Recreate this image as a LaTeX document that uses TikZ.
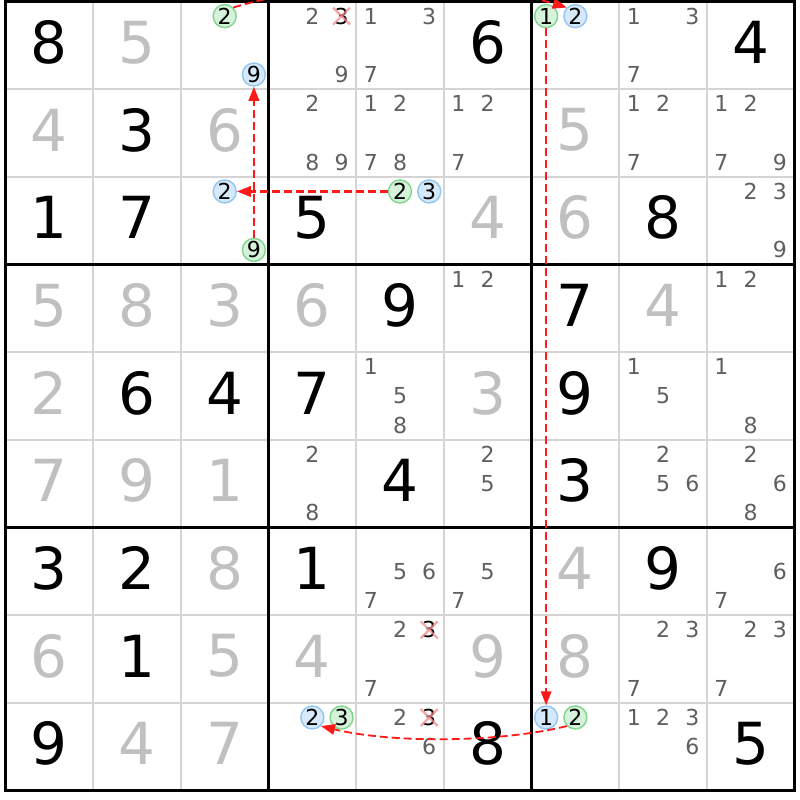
\documentclass[tikz,border=0pt]{standalone}
\usepackage{fontspec}
\setmainfont{DejaVu Sans}
\usetikzlibrary{arrows.meta}
\definecolor{gridgray}{HTML}{D4D4D4}
\definecolor{solvedgray}{HTML}{C0C0C0}
\definecolor{candgray}{HTML}{5F5F5F}
\definecolor{gfill}{HTML}{D6F2DA}
\definecolor{gline}{HTML}{7FD48E}
\definecolor{bfill}{HTML}{D6E9FB}
\definecolor{bline}{HTML}{92C5F2}
\definecolor{xred}{HTML}{F08A8A}
\definecolor{arrred}{HTML}{FF1A1A}
\newcommand\cellsz{87.67}
\newcommand\Gv[3]{\node[given] (v#1#2) at ([yshift=3pt]m#1#2) {#3};}
\newcommand\Sv[3]{\node[solved] (v#1#2) at ([yshift=3pt]m#1#2) {#3};}
\newcommand\Cd[3]{\foreach \k in {#3}{\node[cand] (n#1#2\k) at (p#1#2\k) {\k};}}
\newcommand\Xd[3]{\node[cand,text=black] (n#1#2#3) at (p#1#2#3) {#3};
  \draw[crossx] ([shift={(-8.5,-8.5)}]p#1#2#3) -- ([shift={(8.5,8.5)}]p#1#2#3)
                ([shift={(-8.5,8.5)}]p#1#2#3) -- ([shift={(8.5,-8.5)}]p#1#2#3);}
\newcommand\Gc[3]{\node[gcirc] (n#1#2#3) at (p#1#2#3) {#3};}
\newcommand\Bc[3]{\node[bcirc] (n#1#2#3) at (p#1#2#3) {#3};}
\begin{document}
\begin{tikzpicture}[x=1pt,y=1pt,
  given/.style={inner sep=0pt,font=\fontsize{58pt}{58pt}\selectfont,text=black},
  solved/.style={given,text=solvedgray},
  cand/.style={inner sep=0pt,font=\fontsize{22pt}{22pt}\selectfont,text=candgray},
  gcirc/.style={cand,circle,text=black,draw=gline,fill=gfill,line width=1.4pt,minimum size=23pt},
  bcirc/.style={gcirc,draw=bline,fill=bfill},
  crossx/.style={xred,line width=2.2pt,opacity=0.75},
  arr/.style={arrred,line width=1.8pt,dash pattern=on 8pt off 4pt,-{Triangle[length=14pt,width=10.5pt]}},
  thinline/.style={gridgray,line width=1.7pt},
  thickline/.style={black,line width=2.7pt}]
\useasboundingbox (0,0) rectangle (800,-800);
\clip (0,0) rectangle (800,-800);
\fill[white] (0,0) rectangle (800,-800);
\foreach \c in {1,...,9}{
 \foreach \r in {1,...,9}{
  \coordinate (m\c\r) at ({5.5+(\c-0.5)*\cellsz},{-(1.5+(\r-0.5)*\cellsz)});
  \foreach \k in {1,...,9}{
    \coordinate (p\c\r\k) at ({5.5+(\c-1)*\cellsz+\cellsz*(2*mod(\k-1,3)+1)/6},{-(1.5+(\r-1)*\cellsz+\cellsz*(2*div(\k-1,3)+1)/6)});
  }}}
\foreach \i in {1,2,4,5,7,8}{
  \draw[thinline] ({5.5+\i*\cellsz},-1.5) -- ({5.5+\i*\cellsz},-790.5);
  \draw[thinline] (5.5,{-(1.5+\i*\cellsz)}) -- (794.5,{-(1.5+\i*\cellsz)});
}
\foreach \i in {3,6}{
  \draw[thickline] ({5.5+\i*\cellsz},-1.5) -- ({5.5+\i*\cellsz},-790.5);
  \draw[thickline] (5.5,{-(1.5+\i*\cellsz)}) -- (794.5,{-(1.5+\i*\cellsz)});
}
\draw[thickline,line width=3pt] (5.5,-1.5) rectangle (794.5,-790.5);
% row 1
\Gv{1}{1}{8} \Sv{2}{1}{5} \Gc{3}{1}{2} \Bc{3}{1}{9} \Cd{4}{1}{2,9} \Xd{4}{1}{3}
\Cd{5}{1}{1,3,7} \Gv{6}{1}{6} \Gc{7}{1}{1} \Bc{7}{1}{2} \Cd{8}{1}{1,3,7} \Gv{9}{1}{4}
% row 2
\Sv{1}{2}{4} \Gv{2}{2}{3} \Sv{3}{2}{6} \Cd{4}{2}{2,8,9} \Cd{5}{2}{1,2,7,8} \Cd{6}{2}{1,2,7}
\Sv{7}{2}{5} \Cd{8}{2}{1,2,7} \Cd{9}{2}{1,2,7,9}
% row 3
\Gv{1}{3}{1} \Gv{2}{3}{7} \Bc{3}{3}{2} \Gc{3}{3}{9} \Gv{4}{3}{5} \Gc{5}{3}{2} \Bc{5}{3}{3}
\Sv{6}{3}{4} \Sv{7}{3}{6} \Gv{8}{3}{8} \Cd{9}{3}{2,3,9}
% row 4
\Sv{1}{4}{5} \Sv{2}{4}{8} \Sv{3}{4}{3} \Sv{4}{4}{6} \Gv{5}{4}{9} \Cd{6}{4}{1,2}
\Gv{7}{4}{7} \Sv{8}{4}{4} \Cd{9}{4}{1,2}
% row 5
\Sv{1}{5}{2} \Gv{2}{5}{6} \Gv{3}{5}{4} \Gv{4}{5}{7} \Cd{5}{5}{1,5,8} \Sv{6}{5}{3}
\Gv{7}{5}{9} \Cd{8}{5}{1,5} \Cd{9}{5}{1,8}
% row 6
\Sv{1}{6}{7} \Sv{2}{6}{9} \Sv{3}{6}{1} \Cd{4}{6}{2,8} \Gv{5}{6}{4} \Cd{6}{6}{2,5}
\Gv{7}{6}{3} \Cd{8}{6}{2,5,6} \Cd{9}{6}{2,6,8}
% row 7
\Gv{1}{7}{3} \Gv{2}{7}{2} \Sv{3}{7}{8} \Gv{4}{7}{1} \Cd{5}{7}{5,6,7} \Cd{6}{7}{5,7}
\Sv{7}{7}{4} \Gv{8}{7}{9} \Cd{9}{7}{6,7}
% row 8
\Sv{1}{8}{6} \Gv{2}{8}{1} \Sv{3}{8}{5} \Sv{4}{8}{4} \Cd{5}{8}{2,7} \Xd{5}{8}{3}
\Sv{6}{8}{9} \Sv{7}{8}{8} \Cd{8}{8}{2,3,7} \Cd{9}{8}{2,3,7}
% row 9
\Gv{1}{9}{9} \Sv{2}{9}{4} \Sv{3}{9}{7} \Bc{4}{9}{2} \Gc{4}{9}{3} \Cd{5}{9}{2,6} \Xd{5}{9}{3}
\Gv{6}{9}{8} \Bc{7}{9}{1} \Gc{7}{9}{2} \Cd{8}{9}{1,2,3,6} \Gv{9}{9}{5}
% links
\draw[arr] (n312.45) .. controls ([shift={(100,30)}]n312.45) and ([shift={(-100,30)}]n712.135) .. (n712.135);
\draw[arr] (n711) -- (n791);
\draw[arr] (n792.-135) .. controls ([shift={(-70,-17)}]n792.-135) and ([shift={(70,-17)}]n492.-45) .. (n492.-45);
\draw[arr,line width=2.1pt] (n532) -- (n332);
\draw[arr] (n339) -- (n319);
\end{tikzpicture}
\end{document}
